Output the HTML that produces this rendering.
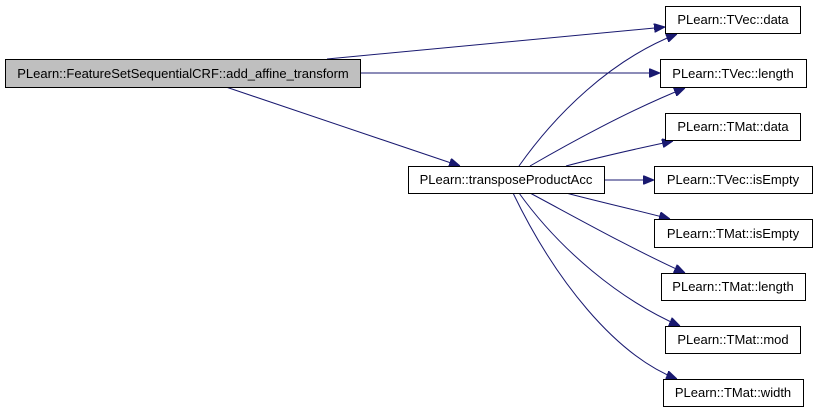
<!DOCTYPE html>
<html><head><meta charset="utf-8"><style>body{margin:0;background:#fff}</style></head><body>
<svg width="819" height="413" viewBox="0 0 819 413" xmlns="http://www.w3.org/2000/svg" font-family="Liberation Sans, sans-serif" font-size="13">
<defs><marker id="a" markerWidth="11" markerHeight="9" refX="11" refY="4.5" orient="auto" markerUnits="userSpaceOnUse"><path d="M0,0 L11,4.5 L0,9 z" fill="#191970" stroke="#191970"/></marker></defs>
<g fill="none" stroke="#191970" stroke-width="1" marker-end="url(#a)">
<path d="M327,59 L665,27"/>
<path d="M360,73 L660,73"/>
<path d="M226,87 L460,166"/>
<path d="M519,166 C555,115 610,60 677,34"/>
<path d="M530,166 C575,140 630,110 685,88"/>
<path d="M566,166 C600,157 640,148 673,141"/>
<path d="M604,180 L654,180"/>
<path d="M566,193 C600,202 640,211 670,219"/>
<path d="M530,193 C575,217 630,248 685,273"/>
<path d="M519,193 C560,250 620,300 680,326"/>
<path d="M513,193 C555,280 615,355 677,379"/>
</g>
<g stroke="#000" stroke-width="1">
<rect x="5.5" y="59.5" width="355" height="28" fill="#bfbfbf"/>
<rect x="408.5" y="166.5" width="196" height="27" fill="#fff"/>
<rect x="665.5" y="6.5" width="135" height="27" fill="#fff"/>
<rect x="660.5" y="59.5" width="146" height="28" fill="#fff"/>
<rect x="665.5" y="113.5" width="135" height="27" fill="#fff"/>
<rect x="654.5" y="166.5" width="158" height="27" fill="#fff"/>
<rect x="654.5" y="219.5" width="158" height="28" fill="#fff"/>
<rect x="661.5" y="273.5" width="144" height="27" fill="#fff"/>
<rect x="665.5" y="326.5" width="135" height="27" fill="#fff"/>
<rect x="663.5" y="379.5" width="140" height="27" fill="#fff"/>
</g>
<g fill="#000" text-anchor="middle">
<text x="183" y="78">PLearn::FeatureSetSequentialCRF::add_affine_transform</text>
<text x="506" y="184">PLearn::transposeProductAcc</text>
<text x="733" y="24">PLearn::TVec::data</text>
<text x="733" y="78">PLearn::TVec::length</text>
<text x="733" y="131">PLearn::TMat::data</text>
<text x="733" y="184">PLearn::TVec::isEmpty</text>
<text x="733" y="238">PLearn::TMat::isEmpty</text>
<text x="733" y="291">PLearn::TMat::length</text>
<text x="733" y="344">PLearn::TMat::mod</text>
<text x="733" y="397">PLearn::TMat::width</text>
</g>
</svg>
</body></html>
